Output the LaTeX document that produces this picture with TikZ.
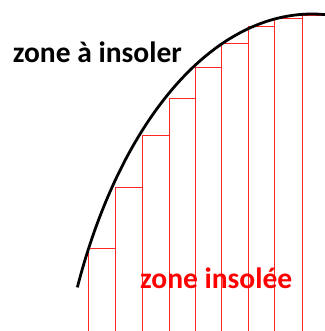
\documentclass[tikz,border=0pt]{standalone}
\usepackage{fontspec}
\setmainfont{Carlito}
\begin{document}
\begin{tikzpicture}[x=1pt,y=-1pt,
  stepline/.style={draw=red!85!white, line width=1pt},
  curve/.style={draw=black, line width=2.8pt},
  lbl/.style={font=\bfseries\fontsize{29.5}{32}\selectfont, inner sep=0pt, anchor=base west}]
\useasboundingbox (0,0) rectangle (324,331);
% steps: x positions and tops
\foreach \xa/\xb/\yt in {88.7/115.3/248.3, 115.3/142.3/187, 142.3/169/135, 169/195.7/98.3, 195.7/221.3/67.7, 221.3/248/43.3, 248/274.7/26.3, 274.7/302/18.3, 302/324/16}{
  \draw[stepline] (\xa,331) -- (\xa,\yt) -- (\xb,\yt);
}
\draw[curve] plot[domain=87:154.5, samples=80, smooth] ({312+260*cos(\x)},{494-480*sin(\x)});
\node[lbl, text=black] (top) at (12.7,63) {zone à insoler};
\node[lbl, text=red] (bot) at (140,288) {zone insolée};
\end{tikzpicture}
\end{document}
